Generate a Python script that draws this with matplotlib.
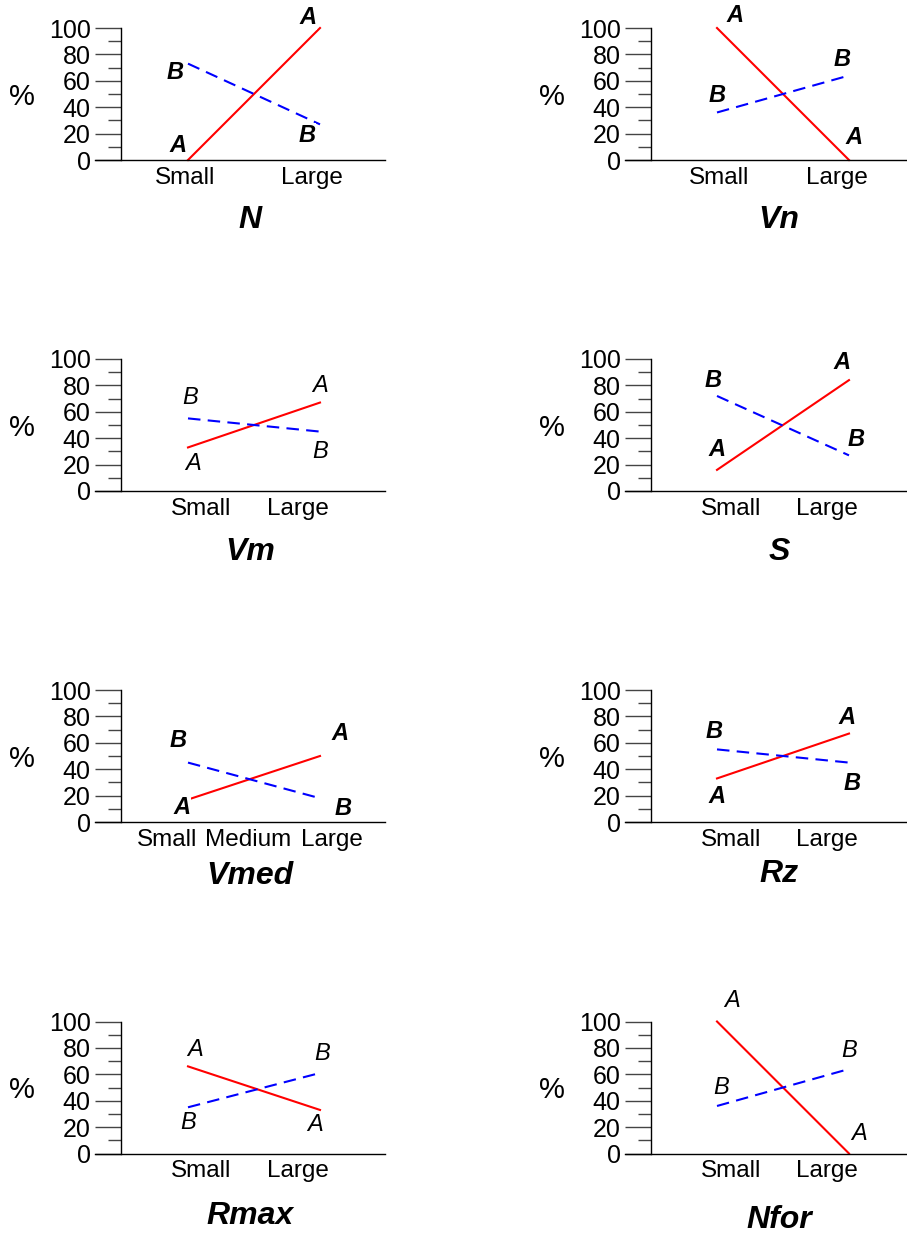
import matplotlib
matplotlib.use("Agg")
import matplotlib.pyplot as plt
from matplotlib.ticker import MultipleLocator

plt.rcParams["font.family"] = ["Liberation Sans", "DejaVu Sans"]

# values (% per group, Small -> Large)
panels = ["N", "Vn", "Vm", "S", "Vmed", "Rz", "Rmax", "Nfor"]
a_small = [0, 100, 33, 16, 17, 33, 66, 100]
a_large = [100, 0, 67, 84, 50, 67, 33, 0]
b_small = [73, 36, 55, 72, 45, 55, 35, 36]
b_large = [27, 64, 45, 27, 18, 45, 61, 64]
cats = ["Small", "Large"]
cats_vmed = ["Small", "Medium", "Large"]
y_ticks = [0, 20, 40, 60, 80, 100]

# layout (pixels)
W, H = 907, 1237
col_left = [95, 625]
col_width = [290, 282]
row_bottom = [160, 491, 822, 1153.5]
ax_h = 132
spine_off = 26
px_per_cat = 132
cat0_px = [188, 717]

# tick label positions in data units for each panel
tick_pos = {
    "N": [-0.02, 0.94], "Vn": [0.015, 0.91], "Vm": [0.10, 0.83], "S": [0.105, 0.835],
    "Vmed": [-0.16, 0.455, 1.09], "Rz": [0.105, 0.835], "Rmax": [0.10, 0.83], "Nfor": [0.105, 0.835],
}
# label offsets (dx, dy) px: A small, B small, A large, B large
offs = {
    "N": [(-10, 15), (-13, -9), (-12, 10), (-13, -11)],
    "Vn": [(18, 12), (0, 17), (5, 23), (-7, 16)],
    "Vm": [(5, -16), (2, 21), (0, 17), (0, -20)],
    "S": [(0, 20), (-4, 15), (-7, 18), (7, 16)],
    "Vmed": [(-6, -8), (-10, 22), (20, 23), (23, -10)],
    "Rz": [(0, -18), (-3, 18), (-2, 16), (3, -21)],
    "Rmax": [(7, 17), (0, -15), (-5, -15), (2, 19)],
    "Nfor": [(15, 21), (4, 18), (10, 20), (0, 19)],
}
bold_labels = {"N", "Vn", "S", "Vmed", "Rz"}
title_dy = {"N": 60, "Vn": 60, "Vm": 61, "S": 61, "Vmed": 54, "Rz": 52, "Rmax": 62, "Nfor": 67}

fig = plt.figure(figsize=(W / 100, H / 100), dpi=100)

for i, name in enumerate(panels):
    r, c = divmod(i, 2)
    left, width = col_left[c], col_width[c]
    ax = fig.add_axes([left / W, 1 - row_bottom[r] / H, width / W, ax_h / H])
    xmin = (left - cat0_px[c]) / px_per_cat
    xmax = (left + width - cat0_px[c]) / px_per_cat
    ax.set_xlim(xmin, xmax)
    ax.set_ylim(0, 100)

    for s in ["top", "right"]:
        ax.spines[s].set_visible(False)
    ax.spines["left"].set_position(("axes", spine_off / width))
    ax.spines["left"].set_linewidth(1)
    ax.spines["bottom"].set_linewidth(1)

    ax.set_yticks(y_ticks)
    ax.yaxis.set_minor_locator(MultipleLocator(10))
    ax.tick_params(axis="y", which="major", length=spine_off * 0.72, width=1,
                   color="#444444", pad=3, labelsize=18)
    ax.tick_params(axis="y", which="minor", length=13 * 0.72, width=1, color="#444444")

    labels = cats_vmed if name == "Vmed" else cats
    ax.set_xticks(tick_pos[name])
    ax.set_xticklabels(labels)
    ax.tick_params(axis="x", length=0, pad=5, labelsize=17.5)

    xs = [0, 1]
    ax.plot(xs, [a_small[i], a_large[i]], color="#ff0000", lw=1.5, clip_on=False, zorder=2)
    ax.plot(xs, [b_small[i], b_large[i]], color="#0000ff", lw=1.5, dashes=(6, 3.5),
            clip_on=False, zorder=2)

    pts = [("A", 0, a_small[i]), ("B", 0, b_small[i]), ("A", 1, a_large[i]), ("B", 1, b_large[i])]
    wt = "bold" if name in bold_labels else "normal"
    for (txt, x, y), (dx, dy) in zip(pts, offs[name]):
        ax.annotate(txt, xy=(x, y), xytext=(dx, dy), textcoords="offset pixels",
                    ha="center", va="center", fontsize=17, style="italic", weight=wt,
                    bbox=dict(fc="white", ec="none", pad=0.3), zorder=3, annotation_clip=False)

    ax.text((spine_off - 99) / width, 0.48, "%", transform=ax.transAxes,
            ha="center", va="center", fontsize=21)
    ax.annotate(name, xy=(0.47, 0), xycoords=("data", "axes fraction"),
                xytext=(0, -title_dy[name]), textcoords="offset pixels",
                ha="center", va="center", fontsize=23, style="italic", weight="bold",
                annotation_clip=False)

fig.savefig("out.png", dpi=100)
